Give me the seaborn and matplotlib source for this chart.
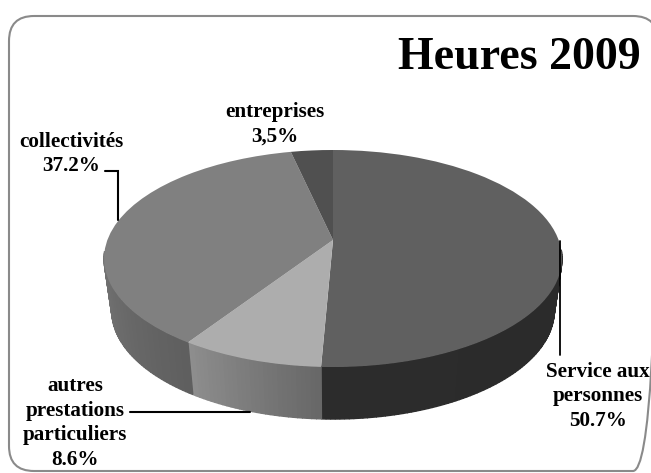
import numpy as np
import matplotlib
matplotlib.use('Agg')
import matplotlib.pyplot as plt
import seaborn as sns
from matplotlib.patches import FancyBboxPatch, Polygon
from matplotlib.transforms import Transform

# Slice values, read clockwise from 12 o'clock
slices = ['Service aux personnes', 'autres prestations particuliers', 'collectivités', 'entreprises']
shares = [50.7, 8.6, 37.2, 3.5]
top_colors = ['#606060', '#adadad', '#808080', '#505050']
side_colors = [('#2c2c2c', '#292929'), ('#8e8e8e', '#686868'), ('#9a9a9a', '#5f5f5f'), ('#3a3a3a', '#3a3a3a')]
label_texts = ['Service aux\npersonnes\n50.7%', 'autres\nprestations\nparticuliers\n8.6%',
               'collectivités\n37.2%', 'entreprises\n3,5%']

sns.set_theme(style='white')
plt.rcParams['font.family'] = ['Liberation Serif', 'DejaVu Serif']


class Tilt(Transform):
    # perspective view of the flat pie, in pixels of the picture
    input_dims = 2
    output_dims = 2

    def __init__(self, cx, cy, rx, ry, k):
        super().__init__()
        self.cx, self.cy, self.rx, self.ry, self.k = cx, cy, rx, ry, k

    def transform_non_affine(self, values):
        xy = np.asarray(values, dtype=float)
        w = 1 + self.k * xy[:, 1]
        return np.column_stack([self.cx + self.rx * xy[:, 0] / w, self.cy - self.ry * xy[:, 1] / w])


fig = plt.figure(figsize=(6.51, 4.73), dpi=100)
ax = fig.add_axes([0, 0, 1, 1])

wedges, _ = ax.pie(shares, startangle=90, counterclock=False, colors=top_colors,
                   wedgeprops=dict(linewidth=0))
ax.set_aspect('auto')
ax.set_xlim(0, 651)
ax.set_ylim(473, 0)
ax.axis('off')

top_rim = Tilt(333, 240, 225.6, 105.35, 0.1706)
low_rim = Tilt(333, 292, 218, 105.35, 0.1706)

for w in wedges:
    w.set_transform(top_rim + ax.transData)
    w.set_zorder(3)

# Side wall: narrow strips shaded along each slice, front part only
for w, shade in zip(wedges, side_colors):
    n = max(int(w.theta2 - w.theta1), 2)
    ramp = sns.blend_palette(shade, n)
    edges = np.radians(np.linspace(w.theta1, w.theta2, n + 1))
    for i in range(n):
        t = np.linspace(edges[i], edges[i + 1], 3)
        if np.sin(t[1]) > -0.1:
            continue
        unit = np.column_stack([np.cos(t), np.sin(t)])
        pts = np.vstack([top_rim.transform_non_affine(unit), low_rim.transform_non_affine(unit)[::-1]])
        ax.add_patch(Polygon(pts, closed=True, facecolor=ramp[i], edgecolor=ramp[i], linewidth=1.0, zorder=2))

# Rounded frame, its right edge runs off the picture
ax.add_patch(FancyBboxPatch((34, 41), 599, 405, boxstyle='round,pad=25,rounding_size=25',
                            fill=False, edgecolor='#8a8a8a', linewidth=1.5, zorder=1))

# Leader lines
ax.plot([105, 118, 118], [171, 171, 220], color='black', lw=1.5, zorder=4, solid_joinstyle='miter')
ax.plot([560, 560], [241, 355], color='black', lw=1.3, zorder=4)
ax.plot([130, 250], [412, 412], color='black', lw=1.5, zorder=4)

ax.text(519, 58, 'Heures 2009', fontsize=33, fontweight='bold', ha='center', va='center', color='black', zorder=5)
label_pos = [(598, 396), (75, 423), (71, 154), (275, 124)]
for txt, (x, y) in zip(label_texts, label_pos):
    ax.text(x, y, txt, fontsize=15.2, fontweight='bold', ha='center', va='center', color='black',
            linespacing=1.3, zorder=5)

fig.savefig('out.png', dpi=100, facecolor='white')
